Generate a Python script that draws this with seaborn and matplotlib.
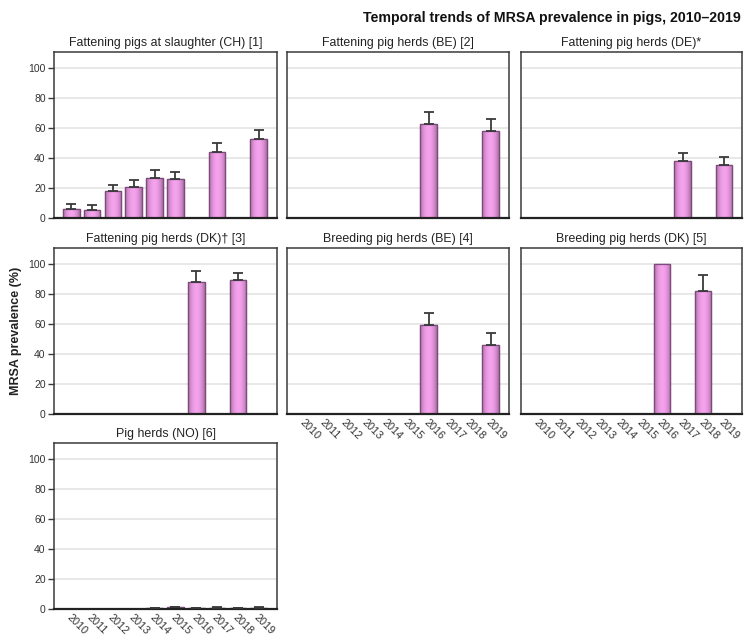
import numpy as np
import pandas as pd
import matplotlib
matplotlib.use("Agg")
import matplotlib.pyplot as plt
import matplotlib.transforms as mtransforms
import seaborn as sns

years = [str(y) for y in range(2010, 2020)]

panel_titles = [
    "Fattening pigs at slaughter (CH) [1]",
    "Fattening pig herds (BE) [2]",
    "Fattening pig herds (DE)*",
    "Fattening pig herds (DK)\u2020 [3]",
    "Breeding pig herds (BE) [4]",
    "Breeding pig herds (DK) [5]",
    "Pig herds (NO) [6]",
]

# prevalence (%) and upper confidence limit for each surveyed year
ch_years = ["2010", "2011", "2012", "2013", "2014", "2015", "2017", "2019"]
ch_prev = [5.8, 5.4, 18.1, 20.8, 26.6, 25.7, 43.8, 52.7]
ch_upper = [9.2, 8.7, 22.3, 25.4, 32.1, 31.0, 49.8, 58.7]

be_fat_years = ["2016", "2019"]
be_fat_prev = [62.9, 58.0]
be_fat_upper = [70.7, 65.8]

de_fat_years = ["2017", "2019"]
de_fat_prev = [37.9, 35.5]
de_fat_upper = [43.5, 40.8]

dk_fat_years = ["2016", "2018"]
dk_fat_prev = [87.7, 89.1]
dk_fat_upper = [95.1, 94.2]

be_breed_years = ["2016", "2019"]
be_breed_prev = [59.6, 46.2]
be_breed_upper = [67.6, 54.2]

dk_breed_years = ["2016", "2018"]
dk_breed_prev = [100.0, 82.1]
dk_breed_upper = [100.0, 92.4]

no_years = ["2014", "2015", "2016", "2017", "2018", "2019"]
no_prev = [0.6, 1.1, 0.5, 1.0, 0.4, 0.8]
no_upper = [0.9, 1.6, 0.8, 1.4, 0.7, 1.2]

series = [
    (ch_years, ch_prev, ch_upper),
    (be_fat_years, be_fat_prev, be_fat_upper),
    (de_fat_years, de_fat_prev, de_fat_upper),
    (dk_fat_years, dk_fat_prev, dk_fat_upper),
    (be_breed_years, be_breed_prev, be_breed_upper),
    (dk_breed_years, dk_breed_prev, dk_breed_upper),
    (no_years, no_prev, no_upper),
]

sns.set_style("white")
plt.rcParams["font.family"] = ["Liberation Sans", "DejaVu Sans"]

W, H = 744, 637
fig = plt.figure(figsize=(W / 100, H / 100), dpi=100)

# panel boxes in pixels: (left, right) per column, (top, bottom) per row
cols = [(54, 277), (287, 509), (521, 742)]
rows = [(52, 218), (248, 414), (443, 609)]
grid_pos = [(0, 0), (0, 1), (0, 2), (1, 0), (1, 1), (1, 2), (2, 0)]
xlabel_panels = {4, 5, 6}
ylabel_panels = {0, 3, 6}

bar_face = "#f6a2ee"
bar_edge = "#7e4a7b"
err_color = "#3a3a3a"
spine_color = "#3a3a3a"

# horizontal shading used inside each bar
grad = np.linspace(0, 1, 64)
shade = 1 - 0.32 * (2 * np.abs(grad - 0.5)) ** 2
rgb = np.array(matplotlib.colors.to_rgb(bar_face))
bar_img = np.clip(rgb[None, :] * shade[:, None], 0, 1)

label_shift = mtransforms.ScaledTranslation(-3 / 100, 0, fig.dpi_scale_trans)

for i, (title, (yrs, prev, upper)) in enumerate(zip(panel_titles, series)):
    r, c = grid_pos[i]
    x0, x1 = cols[c]
    y0, y1 = rows[r]
    ax = fig.add_axes([x0 / W, 1 - y1 / H, (x1 - x0) / W, (y1 - y0) / H])
    df = pd.DataFrame({"year": yrs, "prev": prev, "upper": upper})
    sns.barplot(data=df, x="year", y="prev", order=years, ax=ax,
                color=bar_face, saturation=1, width=0.8,
                edgecolor=bar_edge, linewidth=0.9, errorbar=None)

    for p in list(ax.patches):
        bx, by = p.get_x(), p.get_y()
        bw, bh = p.get_width(), p.get_height()
        if bh <= 0:
            continue
        im = ax.imshow(bar_img[None, :, :], extent=[bx, bx + bw, by, by + bh],
                       aspect="auto", zorder=p.get_zorder() + 0.1,
                       interpolation="bilinear")
        im.set_clip_path(p)
        ax.add_patch(matplotlib.patches.Rectangle(
            (bx, by), bw, bh, fill=False, edgecolor=bar_edge,
            linewidth=0.9, zorder=p.get_zorder() + 0.2))

    # upper confidence limits as one-sided error bars
    pos = np.array([years.index(y) for y in yrs])
    err_hi = np.array(upper) - np.array(prev)
    mask = err_hi > 0
    if mask.any():
        ax.errorbar(pos[mask], np.array(prev)[mask],
                    yerr=[np.zeros(mask.sum()), err_hi[mask]],
                    fmt="none", ecolor=err_color, elinewidth=1.3,
                    capsize=3.6, capthick=1.3, zorder=5)

    ax.set_xlim(-0.83, 9.88)
    ax.set_ylim(0, 110.7)
    ax.set_yticks([0, 20, 40, 60, 80, 100])
    ax.yaxis.grid(True, color="#e4e4e4", linewidth=1.2)
    ax.set_axisbelow(True)
    ax.set_xlabel("")
    ax.set_ylabel("")
    for s in ax.spines.values():
        s.set_color(spine_color)
        s.set_linewidth(1.1)
    ax.spines["bottom"].set_linewidth(1.6)
    ax.spines["bottom"].set_color("#222222")
    ax.set_title(title, fontsize=8.9, color="#222222", pad=4)

    ax.tick_params(axis="x", length=0, pad=5)
    if i in xlabel_panels:
        ax.set_xticks(range(len(years)))
        ax.set_xticklabels(years, rotation=-45, ha="left", va="center",
                           rotation_mode="anchor", fontsize=7.8, color="#333333")
        for lab in ax.get_xticklabels():
            lab.set_transform(lab.get_transform() + label_shift)
    else:
        ax.set_xticklabels([])
    if i in ylabel_panels:
        ax.tick_params(axis="y", length=4, width=1, color=spine_color,
                       labelsize=7.5, labelcolor="#333333", left=True, pad=2)
    else:
        ax.tick_params(axis="y", left=False, labelleft=False)

fig.text(16 / W, 1 - 331 / H, "MRSA prevalence (%)", rotation=90,
         ha="center", va="center", fontsize=9, fontweight="bold", color="#222222")
fig.text(741 / W, 1 - 18 / H, "Temporal trends of MRSA prevalence in pigs, 2010\u20132019",
         ha="right", va="center", fontsize=10.2, fontweight="bold", color="#111111")

fig.savefig("out.png", dpi=100, facecolor="white")
